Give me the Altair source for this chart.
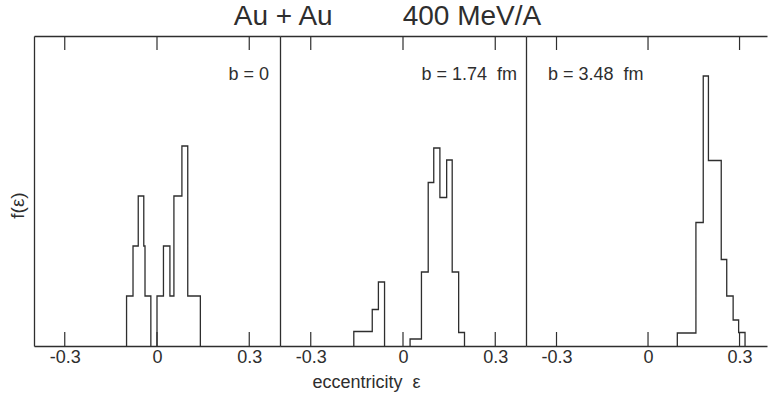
import altair as alt
import pandas as pd

INK = "#2e2e2e"
FONT = "Liberation Sans"

TICKS = [-0.3, 0.0, 0.3]

# panel 1 : b = 0  (two clusters)
P1_A_EDGES = [-0.099, -0.078, -0.061, -0.043, -0.039, -0.020]
P1_A_COUNTS = [1.0, 2.0, 3.0, 2.0, 1.0]
P1_B_EDGES = [0.000, 0.021, 0.042, 0.055, 0.081, 0.100, 0.141]
P1_B_COUNTS = [1.0, 2.0, 1.0, 3.0, 4.0, 1.0]

# panel 2 : b = 1.74 fm
P2_A_EDGES = [-0.160, -0.100, -0.080, -0.060]
P2_A_COUNTS = [0.29, 0.73, 1.28]
P2_B_EDGES = [0.023, 0.060, 0.082, 0.100, 0.120, 0.142, 0.160, 0.181, 0.200]
P2_B_COUNTS = [0.14, 1.48, 3.27, 3.96, 2.97, 3.72, 1.48, 0.27]

# panel 3 : b = 3.48 fm
P3_EDGES = [0.096, 0.157, 0.181, 0.198, 0.240, 0.258, 0.279, 0.297, 0.318]
P3_COUNTS = [0.26, 2.47, 5.40, 3.71, 1.73, 1.00, 0.52, 0.27]

LABELS = ["b = 0", "b = 1.74\u00a0\u00a0fm", "b = 3.48\u00a0\u00a0fm"]
X_TITLE = "eccentricity\u00a0\u00a0ε"
Y_TITLE = "f(ε)"
TITLE = "Au + Au" + "\u00a0" * 9 + "400 MeV/A"

H = 310
Y_MAX = 6.2


def outline(segments):
    rows = []
    for s, (edges, counts) in enumerate(segments):
        xs = [edges[0]] + list(edges)
        ys = [0.0] + list(counts) + [0.0]
        for i, (x, y) in enumerate(zip(xs, ys)):
            rows.append({"seg": s, "i": i, "x": x, "y": y})
    return pd.DataFrame(rows)


def label_expr():
    return ("datum.value < -0.0001 ? '-' + format(-datum.value, '.1f') : "
            "(abs(datum.value) < 0.0001 ? '0' : format(datum.value, '.1f'))")


def panel(df, label, label_x, label_align, width, xmax, first, middle):
    xs = alt.Scale(domain=[-0.4, xmax], nice=False, zero=False)
    ys = alt.Scale(domain=[0, Y_MAX], nice=False, zero=True)

    bottom_axis = dict(
        orient="bottom", values=TICKS, ticks=False, tickSize=0, grid=False,
        domain=True, domainColor=INK, domainWidth=1.3,
        labelExpr=label_expr(), labelFont=FONT, labelFontSize=18,
        labelColor=INK, labelPadding=2, labelFlush=False,
    )
    if middle:
        bottom_axis.update(title=X_TITLE, titleFont=FONT, titleFontSize=18,
                           titleFontWeight="normal", titleColor=INK,
                           titleX=86, titleY=41, titleAlign="center",
                           titleBaseline="alphabetic")
    else:
        bottom_axis.update(title=None)

    left_axis = dict(orient="left", ticks=False, labels=False, grid=False,
                     domain=True, domainColor=INK, domainWidth=1.3)
    if first:
        left_axis.update(title=Y_TITLE, titleFont=FONT, titleFontSize=19,
                         titleFontWeight="normal", titleColor=INK,
                         titleX=-7, titleY=169, titleBaseline="bottom",
                         titleAlign="center")
    else:
        left_axis.update(title=None)

    line = alt.Chart(df).mark_line(
        interpolate="step-after", color=INK, strokeWidth=1.3
    ).encode(
        x=alt.X("x:Q", scale=xs, axis=alt.Axis(**bottom_axis)),
        y=alt.Y("y:Q", scale=ys, axis=alt.Axis(**left_axis)),
        detail="seg:N",
        order="i:Q",
    )

    tick_df = pd.DataFrame({"t": TICKS})
    top_ticks = alt.Chart(tick_df).mark_rule(color=INK, strokeWidth=1.2).encode(
        x=alt.X("t:Q", scale=xs, axis=alt.Axis(
            orient="top", ticks=False, labels=False, grid=False, domain=True,
            domainColor=INK, domainWidth=1.3, title=None)),
        y=alt.value(0),
        y2=alt.value(14),
    )
    bot_ticks = alt.Chart(tick_df).mark_rule(color=INK, strokeWidth=1.2).encode(
        x=alt.X("t:Q", scale=xs, axis=None),
        y=alt.value(H - 14),
        y2=alt.value(H),
    )
    txt = alt.Chart(pd.DataFrame({"lab": [label]})).mark_text(
        font=FONT, fontSize=18, color=INK, align=label_align, baseline="middle"
    ).encode(
        x=alt.value(label_x),
        y=alt.value(39),
        text="lab:N",
    )
    return alt.layer(line, top_ticks, bot_ticks, txt).resolve_axis(
        x="independent"
    ).properties(width=width, height=H)


p1 = panel(outline([(P1_A_EDGES, P1_A_COUNTS), (P1_B_EDGES, P1_B_COUNTS)]),
           LABELS[0], 235, "right", 246, 0.4, True, False)
p2 = panel(outline([(P2_A_EDGES, P2_A_COUNTS), (P2_B_EDGES, P2_B_COUNTS)]),
           LABELS[1], 237, "right", 246, 0.4, False, True)
p3 = panel(outline([(P3_EDGES, P3_COUNTS)]),
           LABELS[2], 22, "left", 241, 0.39, False, False)

chart = alt.hconcat(p1, p2, p3, spacing=0, bounds="flush").properties(
    title=alt.TitleParams(TITLE, font=FONT, fontSize=28, fontWeight="normal",
                          color=INK, anchor="middle", offset=4, dx=0),
    padding={"left": 7, "top": 2, "right": 0, "bottom": 4},
    background="white",
).configure_view(stroke="transparent")

chart.save("out.html", embed_options={"renderer": "svg", "actions": False})
